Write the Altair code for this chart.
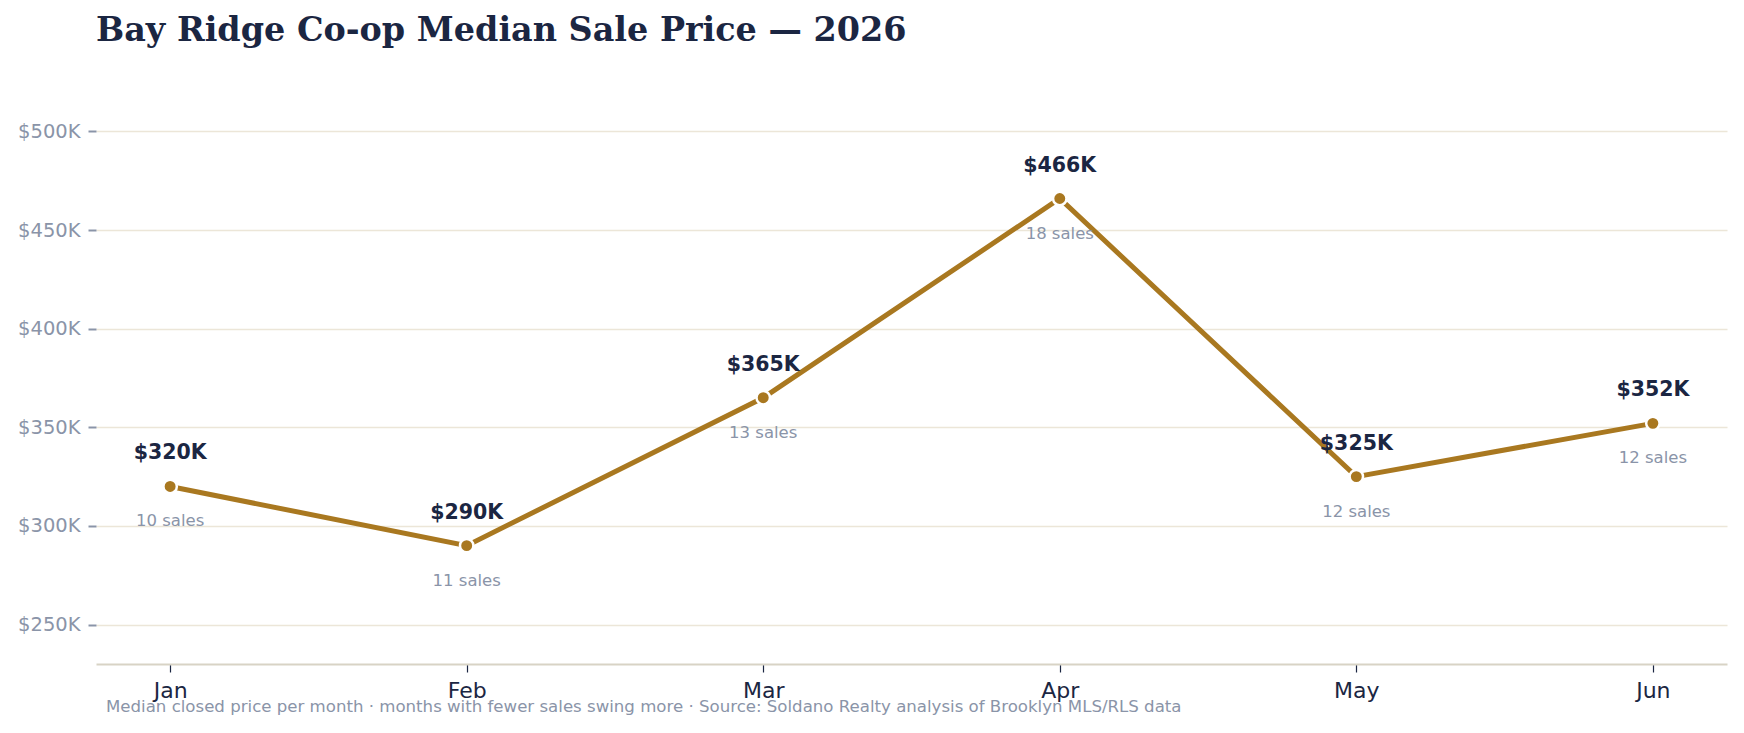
import altair as alt
import pandas as pd

# Monthly median co-op closing prices and sale counts
months = ["Jan", "Feb", "Mar", "Apr", "May", "Jun"]
median_price = [320000, 290000, 365000, 466000, 325000, 352000]
sales_count = [10, 11, 13, 18, 12, 12]
y_ticks = [250000, 300000, 350000, 400000, 450000, 500000]

df = pd.DataFrame({
    "month": months,
    "price": median_price,
    "sales": sales_count,
})
df["price_label"] = df["price"].map(lambda v: f"${v // 1000}K")
df["sales_label"] = df["sales"].map(lambda n: f"{n} sales")

NAVY = "#1b2642"
GOLD = "#a97820"
GRAY = "#8a94a8"
SANS = "DejaVu Sans"

W, H = 1631, 572

x = alt.X(
    "month:N",
    sort=months,
    scale=alt.Scale(type="point", padding=0.25),
    axis=alt.Axis(
        title=None, labelAngle=0, labelFontSize=22, labelColor=NAVY,
        labelFont=SANS, labelPadding=8, tickColor=NAVY, tickSize=8,
        tickWidth=1.2, domainColor="#d8d3c5", domainWidth=2, grid=False,
    ),
)
y = alt.Y(
    "price:Q",
    scale=alt.Scale(domain=[230000, 520000], nice=False, zero=False),
    axis=alt.Axis(
        title=None, values=y_ticks, labelExpr="'$' + datum.value / 1000 + 'K'",
        labelFontSize=19.5, labelColor=GRAY, labelFont=SANS, labelPadding=8,
        tickColor=GRAY, tickSize=8, tickWidth=2,
        domain=False, grid=True, gridColor="#ece6d8", gridWidth=1.5,
    ),
)

base = alt.Chart(df).encode(x=x, y=y)

line = base.mark_line(color=GOLD, strokeWidth=5)
points = base.mark_point(
    filled=True, color=GOLD, size=180, stroke="white", strokeWidth=2.5, opacity=1
)
price_text = base.mark_text(
    dy=-33, fontSize=20.5, fontWeight="bold", color=NAVY, font=SANS
).encode(text="price_label:N")
sales_text = base.mark_text(
    dy=35, fontSize=16.5, color=GRAY, font=SANS
).encode(text="sales_label:N")

footer = alt.Chart(pd.DataFrame({"t": [
    "Median closed price per month \u00b7 months with fewer sales swing more \u00b7 "
    "Source: Soldano Realty analysis of Brooklyn MLS/RLS data"
]})).mark_text(
    align="left", baseline="middle", fontSize=16.6, color=GRAY, font=SANS
).encode(x=alt.value(10), y=alt.value(H + 43), text="t:N")

chart = alt.layer(line, points, price_text, sales_text, footer).properties(
    width=W,
    height=H,
    title=alt.TitleParams(
        "Bay Ridge Co-op Median Sale Price \u2014 2026",
        font="DejaVu Serif", fontSize=33.4, fontWeight="bold", color=NAVY,
        anchor="start", frame="group", offset=44,
    ),
    autosize=alt.AutoSizeParams(type="none"),
    padding={"left": 96, "top": 92, "right": 17, "bottom": 69},
).configure(background="white").configure_view(stroke=None, strokeWidth=0)

chart.save("out.html", embed_options={"renderer": "svg", "actions": False})
